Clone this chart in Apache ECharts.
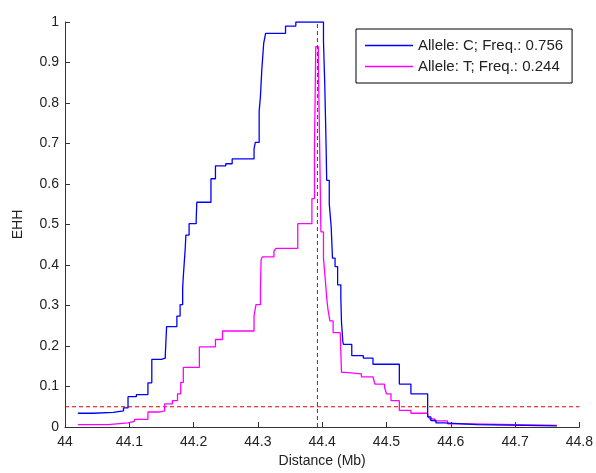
<!DOCTYPE html>
<html>
<head>
<meta charset="utf-8">
<script src="https://cdn.jsdelivr.net/npm/echarts@6/dist/echarts.min.js"></script>
<style>
html,body{margin:0;padding:0;background:#fff;}
#chart{width:596px;height:473px;}
</style>
</head>
<body>
<div id="chart"></div>
<script>
// Allele C (blue) step points: [distance Mb, EHH]
const alleleC_x = [44.020,44.044,44.075,44.091,44.098,44.111,44.129,44.135,44.150,44.156,44.158,44.174,44.179,44.183,44.184,44.187,44.188,44.193,44.204,44.205,44.227,44.234,44.250,44.260,44.294,44.296,44.302,44.304,44.306,44.309,44.312,44.343,44.359,44.402,44.404,44.406,44.407,44.411,44.414,44.416,44.420,44.424,44.429,44.430,44.432,44.433,44.446,44.464,44.479,44.520,44.538,44.564,44.569,44.577,44.590,44.641,44.765];
const alleleC_y = [0.034,0.036,0.040,0.047,0.075,0.080,0.109,0.167,0.170,0.177,0.248,0.274,0.302,0.343,0.372,0.441,0.474,0.502,0.510,0.555,0.613,0.645,0.650,0.662,0.686,0.703,0.780,0.817,0.880,0.947,0.972,0.990,1.000,0.952,0.846,0.700,0.609,0.551,0.494,0.417,0.396,0.351,0.319,0.260,0.212,0.204,0.176,0.170,0.155,0.106,0.082,0.025,0.016,0.010,0.006,0.003,0.003];

// Allele T (magenta) step points
const alleleT_x = [44.020,44.067,44.098,44.108,44.129,44.147,44.155,44.167,44.175,44.180,44.184,44.209,44.234,44.245,44.294,44.297,44.304,44.305,44.307,44.325,44.328,44.362,44.384,44.388,44.390,44.394,44.396,44.398,44.402,44.405,44.407,44.409,44.412,44.417,44.428,44.430,44.436,44.461,44.479,44.482,44.497,44.500,44.507,44.520,44.538,44.564,44.567,44.575,44.595,44.612,44.765];
const alleleT_y = [0.006,0.010,0.014,0.019,0.037,0.040,0.057,0.065,0.082,0.110,0.147,0.198,0.216,0.237,0.274,0.302,0.343,0.413,0.420,0.434,0.441,0.502,0.564,0.686,0.939,0.900,0.700,0.482,0.417,0.360,0.319,0.290,0.262,0.233,0.230,0.135,0.131,0.124,0.120,0.106,0.098,0.082,0.065,0.041,0.034,0.029,0.020,0.015,0.008,0.004,0.003];

const seriesNames = ['Allele: C; Freq.: 0.756', 'Allele: T; Freq.: 0.244'];
const thresholdEHH = 0.05;
const coreSnpPos = 44.3926;
const xRange = [44, 44.8];
const yRange = [0, 1];

function pairs(xs, ys){ return xs.map((x,i)=>[x, ys[i]]); }

const chart = echarts.init(document.getElementById('chart'), null, {renderer:'canvas'});
const FONT = '"Liberation Sans", Arial, sans-serif';
const TXT = '#222';

chart.setOption({
  animation:false,
  backgroundColor:'#fff',
  grid:{left:65, right:13, top:22, bottom:43, containLabel:false},
  legend:{
    data:seriesNames,
    orient:'vertical',
    left:356, top:29,
    padding:[8,9,8,9],
    itemGap:4,
    icon:'rect',
    itemWidth:48, itemHeight:1.3,
    backgroundColor:'#fff',
    borderColor:'#000', borderWidth:1,
    textStyle:{fontFamily:FONT, fontSize:15, color:TXT, lineHeight:17}
  },
  xAxis:{
    type:'value', min:xRange[0], max:xRange[1], interval:0.1,
    name:'Distance (Mb)', nameLocation:'middle', nameGap:27,
    nameTextStyle:{fontFamily:FONT, fontSize:14, color:TXT},
    axisLine:{show:true, onZero:false, lineStyle:{color:'#333', width:1}},
    axisTick:{show:true, inside:true, length:5, lineStyle:{color:'#333'}},
    axisLabel:{fontFamily:FONT, fontSize:14, color:TXT, margin:8, showMaxLabel:true, showMinLabel:true},
    splitLine:{show:false}
  },
  yAxis:{
    type:'value', min:yRange[0], max:yRange[1], interval:0.1,
    name:'EHH', nameLocation:'middle', nameGap:40,
    nameTextStyle:{fontFamily:FONT, fontSize:14, color:TXT},
    axisLine:{show:true, onZero:false, lineStyle:{color:'#333', width:1}},
    axisTick:{show:true, inside:true, length:5, lineStyle:{color:'#333'}},
    axisLabel:{fontFamily:FONT, fontSize:14, color:TXT, margin:6},
    splitLine:{show:false}
  },
  series:[
    {
      name:seriesNames[0], type:'line', step:'end', symbol:'none',
      data:pairs(alleleC_x, alleleC_y),
      lineStyle:{color:'#0000ff', width:1.3}, itemStyle:{color:'#0000ff'},
      z:3
    },
    {
      name:seriesNames[1], type:'line', step:'end', symbol:'none',
      data:pairs(alleleT_x, alleleT_y),
      lineStyle:{color:'#ff00ff', width:1.3}, itemStyle:{color:'#ff00ff'},
      z:2
    },
    {
      name:'threshold', type:'line', symbol:'none',
      data:[[xRange[0], thresholdEHH],[xRange[1], thresholdEHH]],
      lineStyle:{color:'#e00000', width:1, type:[4,3]},
      z:1, silent:true
    },
    {
      name:'core', type:'line', symbol:'none',
      data:[[coreSnpPos, yRange[0]],[coreSnpPos, yRange[1]]],
      lineStyle:{color:'#e00000', width:1, type:[4,3]},
      z:4, silent:true
    }
  ]
});
</script>
</body>
</html>
